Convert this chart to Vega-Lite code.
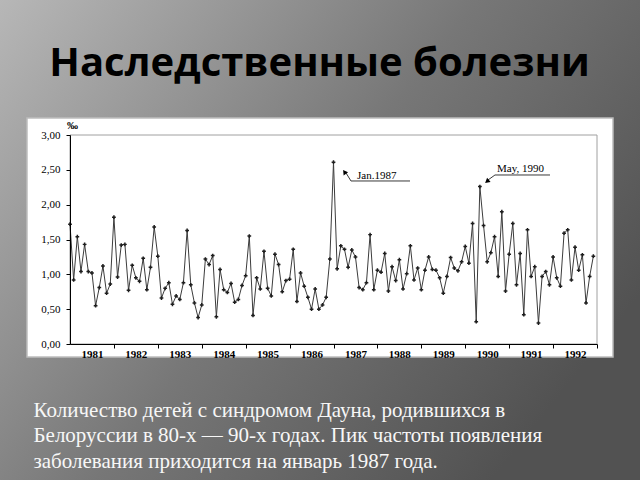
{
  "$schema": "https://vega.github.io/schema/vega-lite/v6.json",
  "width": 527,
  "height": 209,
  "autosize": {"type": "none"},
  "padding": {"left": 70, "top": 135, "right": 43, "bottom": 136},
  "background": "#8a8a8a",
  "title": {
    "text": "Наследственные болезни",
    "font": "Open Sans",
    "fontSize": 40,
    "fontWeight": "bold",
    "color": "#000000",
    "anchor": "middle",
    "frame": "group",
    "baseline": "alphabetic",
    "offset": 0,
    "dx": -14,
    "dy": 120,
    "zindex": 1
  },
  "config": {"view": {"stroke": null}, "axisY": {"labelOverlap": false}},
  "datasets": {
    "births": [
      {"t": 1981.000, "v": 1.72}, {"t": 1981.083, "v": 0.92}, {"t": 1981.167, "v": 1.54}, {"t": 1981.250, "v": 1.04},
      {"t": 1981.333, "v": 1.43}, {"t": 1981.417, "v": 1.04}, {"t": 1981.500, "v": 1.02}, {"t": 1981.583, "v": 0.55},
      {"t": 1981.667, "v": 0.81}, {"t": 1981.750, "v": 1.12}, {"t": 1981.833, "v": 0.73}, {"t": 1981.917, "v": 0.86},
      {"t": 1982.000, "v": 1.82}, {"t": 1982.083, "v": 0.96}, {"t": 1982.167, "v": 1.42}, {"t": 1982.250, "v": 1.43},
      {"t": 1982.333, "v": 0.77}, {"t": 1982.417, "v": 1.13}, {"t": 1982.500, "v": 0.95}, {"t": 1982.583, "v": 0.90},
      {"t": 1982.667, "v": 1.23}, {"t": 1982.750, "v": 0.78}, {"t": 1982.833, "v": 1.10}, {"t": 1982.917, "v": 1.68},
      {"t": 1983.000, "v": 1.26}, {"t": 1983.083, "v": 0.66}, {"t": 1983.167, "v": 0.80}, {"t": 1983.250, "v": 0.88},
      {"t": 1983.333, "v": 0.57}, {"t": 1983.417, "v": 0.69}, {"t": 1983.500, "v": 0.64}, {"t": 1983.583, "v": 0.88},
      {"t": 1983.667, "v": 1.63}, {"t": 1983.750, "v": 0.85}, {"t": 1983.833, "v": 0.59}, {"t": 1983.917, "v": 0.38},
      {"t": 1984.000, "v": 0.56}, {"t": 1984.083, "v": 1.22}, {"t": 1984.167, "v": 1.14}, {"t": 1984.250, "v": 1.27},
      {"t": 1984.333, "v": 0.39}, {"t": 1984.417, "v": 1.07}, {"t": 1984.500, "v": 0.78}, {"t": 1984.583, "v": 0.74},
      {"t": 1984.667, "v": 0.87}, {"t": 1984.750, "v": 0.60}, {"t": 1984.833, "v": 0.64}, {"t": 1984.917, "v": 0.84},
      {"t": 1985.000, "v": 0.98}, {"t": 1985.083, "v": 1.55}, {"t": 1985.167, "v": 0.41}, {"t": 1985.250, "v": 0.95},
      {"t": 1985.333, "v": 0.79}, {"t": 1985.417, "v": 1.33}, {"t": 1985.500, "v": 0.80}, {"t": 1985.583, "v": 0.69},
      {"t": 1985.667, "v": 1.29}, {"t": 1985.750, "v": 1.14}, {"t": 1985.833, "v": 0.75}, {"t": 1985.917, "v": 0.91},
      {"t": 1986.000, "v": 0.93}, {"t": 1986.083, "v": 1.36}, {"t": 1986.167, "v": 0.61}, {"t": 1986.250, "v": 1.02},
      {"t": 1986.333, "v": 0.83}, {"t": 1986.417, "v": 0.67}, {"t": 1986.500, "v": 0.50}, {"t": 1986.583, "v": 0.79},
      {"t": 1986.667, "v": 0.50}, {"t": 1986.750, "v": 0.56}, {"t": 1986.833, "v": 0.67}, {"t": 1986.917, "v": 1.22},
      {"t": 1987.000, "v": 2.61}, {"t": 1987.083, "v": 1.08}, {"t": 1987.167, "v": 1.41}, {"t": 1987.250, "v": 1.36},
      {"t": 1987.333, "v": 1.10}, {"t": 1987.417, "v": 1.35}, {"t": 1987.500, "v": 1.25}, {"t": 1987.583, "v": 0.81},
      {"t": 1987.667, "v": 0.78}, {"t": 1987.750, "v": 0.88}, {"t": 1987.833, "v": 1.57}, {"t": 1987.917, "v": 0.78},
      {"t": 1988.000, "v": 1.06}, {"t": 1988.083, "v": 1.03}, {"t": 1988.167, "v": 1.30}, {"t": 1988.250, "v": 0.76},
      {"t": 1988.333, "v": 1.11}, {"t": 1988.417, "v": 0.91}, {"t": 1988.500, "v": 1.21}, {"t": 1988.583, "v": 0.79},
      {"t": 1988.667, "v": 1.01}, {"t": 1988.750, "v": 1.41}, {"t": 1988.833, "v": 0.92}, {"t": 1988.917, "v": 1.09},
      {"t": 1989.000, "v": 0.78}, {"t": 1989.083, "v": 1.06}, {"t": 1989.167, "v": 1.25}, {"t": 1989.250, "v": 1.07},
      {"t": 1989.333, "v": 1.06}, {"t": 1989.417, "v": 0.95}, {"t": 1989.500, "v": 0.73}, {"t": 1989.583, "v": 0.97},
      {"t": 1989.667, "v": 1.24}, {"t": 1989.750, "v": 1.09}, {"t": 1989.833, "v": 1.05}, {"t": 1989.917, "v": 1.18},
      {"t": 1990.000, "v": 1.40}, {"t": 1990.083, "v": 1.16}, {"t": 1990.167, "v": 1.73}, {"t": 1990.250, "v": 0.32},
      {"t": 1990.333, "v": 2.26}, {"t": 1990.417, "v": 1.70}, {"t": 1990.500, "v": 1.18}, {"t": 1990.583, "v": 1.31},
      {"t": 1990.667, "v": 1.54}, {"t": 1990.750, "v": 0.97}, {"t": 1990.833, "v": 1.90}, {"t": 1990.917, "v": 0.76},
      {"t": 1991.000, "v": 1.29}, {"t": 1991.083, "v": 1.73}, {"t": 1991.167, "v": 0.85}, {"t": 1991.250, "v": 1.30},
      {"t": 1991.333, "v": 0.42}, {"t": 1991.417, "v": 1.64}, {"t": 1991.500, "v": 0.97}, {"t": 1991.583, "v": 1.11},
      {"t": 1991.667, "v": 0.30}, {"t": 1991.750, "v": 0.97}, {"t": 1991.833, "v": 1.04}, {"t": 1991.917, "v": 0.85},
      {"t": 1992.000, "v": 1.25}, {"t": 1992.083, "v": 0.95}, {"t": 1992.167, "v": 0.83}, {"t": 1992.250, "v": 1.59},
      {"t": 1992.333, "v": 1.64}, {"t": 1992.417, "v": 0.92}, {"t": 1992.500, "v": 1.39}, {"t": 1992.583, "v": 1.06},
      {"t": 1992.667, "v": 1.28}, {"t": 1992.750, "v": 0.59}, {"t": 1992.833, "v": 0.97}, {"t": 1992.917, "v": 1.26}
    ],
    "leaders": [
      {"name": "jan", "t": 1987.285, "v": 2.455},
      {"name": "jan", "t": 1987.398, "v": 2.340},
      {"name": "jan", "t": 1988.742, "v": 2.340},
      {"name": "may", "t": 1990.518, "v": 2.354},
      {"name": "may", "t": 1990.677, "v": 2.426},
      {"name": "may", "t": 1991.930, "v": 2.426}
    ],
    "arrows": [
      {"name": "jan", "t": 1987.250, "v": 2.469},
      {"name": "may", "t": 1990.495, "v": 2.333}
    ],
    "labels": [
      {"name": "jan", "label": "Jan.1987", "t": 1987.535, "v": 2.362},
      {"name": "may", "label": "May, 1990", "t": 1990.723, "v": 2.469}
    ],
    "single": [{"k": 1}]
  },
  "layer": [
    {
      "data": {"name": "single"},
      "mark": {
        "type": "rect",
        "stroke": null,
        "fill": {
          "gradient": "linear",
          "x1": 0, "y1": 0, "x2": 1, "y2": 0.6,
          "stops": [
            {"offset": 0, "color": "#b8b8b8"},
            {"offset": 0.55, "color": "#777777"},
            {"offset": 1, "color": "#525252"}
          ]
        }
      },
      "encoding": {
        "x": {
          "datum": 1979.3,
          "type": "quantitative",
          "scale": {"domain": [1981, 1993], "nice": false, "zero": false},
          "axis": {
            "title": [
              "Количество детей с синдромом Дауна, родившихся в",
              "Белоруссии в 80-х — 90-х годах. Пик частоты появления",
              "заболевания приходится на январь 1987 года."
            ],
            "values": [1982, 1983, 1984, 1985, 1986, 1987, 1988, 1989, 1990, 1991, 1992, 1993],
            "tickCount": 30,
            "labelExpr": "'' + (datum.value - 1)",
            "labelOffset": -22,
            "labelFlush": false,
            "labelOverlap": false,
            "labelBound": false,
            "labelFont": "Liberation Serif",
            "labelFontSize": 11,
            "labelFontWeight": "bold",
            "labelColor": "#000000",
            "labelPadding": 0,
            "tickSize": 4,
            "tickColor": "#000000",
            "domainColor": "#000000",
            "grid": false,
            "titleFont": "Liberation Serif",
            "titleFontSize": 21,
            "titleFontWeight": "normal",
            "titleColor": "#f7f7f7",
            "titleAlign": "left",
            "titleAnchor": "start",
            "titleBaseline": "alphabetic",
            "titleX": -37,
            "titleY": 72,
            "titleLineHeight": 25.5,
            "zindex": 1
          }
        },
        "x2": {"datum": 1994.1},
        "y": {
          "datum": -2.0,
          "type": "quantitative",
          "scale": {"domain": [0, 3], "nice": false, "zero": false},
          "axis": {
            "title": "‰",
            "titleAngle": 0,
            "titleX": 2,
            "titleY": -7,
            "titleAlign": "center",
            "titleBaseline": "alphabetic",
            "titleFont": "Liberation Serif",
            "titleFontSize": 11,
            "titleFontWeight": "bold",
            "titleColor": "#000000",
            "values": [0, 0.5, 1, 1.5, 2, 2.5, 3],
            "tickCount": 30,
            "labelExpr": "replace(format(datum.value, '.2f'), '.', ',')",
            "labelOverlap": false,
            "labelFlush": false,
            "labelBound": false,
            "labelFont": "Liberation Serif",
            "labelFontSize": 11,
            "labelColor": "#000000",
            "labelPadding": 6,
            "tickSize": 4,
            "tickColor": "#000000",
            "domainColor": "#000000",
            "grid": false,
            "zindex": 1
          }
        },
        "y2": {"datum": 5.0}
      }
    },
    {
      "data": {"name": "single"},
      "mark": {"type": "rect", "fill": "#ffffff", "stroke": "#bdbdbd", "strokeWidth": 1.5},
      "encoding": {
        "x": {"datum": 1980.021, "type": "quantitative"},
        "x2": {"datum": 1993.364},
        "y": {"datum": -0.187, "type": "quantitative"},
        "y2": {"datum": 3.244}
      }
    },
    {
      "data": {"name": "single"},
      "mark": {"type": "rect", "fill": null, "filled": false, "stroke": "#a0a0a0", "strokeWidth": 1},
      "encoding": {
        "x": {"datum": 1981, "type": "quantitative"},
        "x2": {"datum": 1993},
        "y": {"datum": 0, "type": "quantitative"},
        "y2": {"datum": 3}
      }
    },
    {
      "data": {"name": "births"},
      "mark": {"type": "line", "color": "#3c3c3c", "strokeWidth": 1},
      "encoding": {
        "x": {"field": "t", "type": "quantitative"},
        "y": {"field": "v", "type": "quantitative"}
      }
    },
    {
      "data": {"name": "births"},
      "mark": {"type": "point", "shape": "cross", "filled": true, "size": 14, "color": "#1e1e1e", "opacity": 1},
      "encoding": {
        "x": {"field": "t", "type": "quantitative"},
        "y": {"field": "v", "type": "quantitative"}
      }
    },
    {
      "data": {"name": "leaders"},
      "mark": {"type": "line", "color": "#222222", "strokeWidth": 0.9},
      "encoding": {
        "x": {"field": "t", "type": "quantitative"},
        "y": {"field": "v", "type": "quantitative"},
        "detail": {"field": "name"}
      }
    },
    {
      "data": {"name": "arrows"},
      "transform": [{"filter": "datum.name === 'jan'"}],
      "mark": {"type": "point", "shape": "triangle-up", "filled": true, "size": 30, "angle": 324, "color": "#000000", "opacity": 1},
      "encoding": {
        "x": {"field": "t", "type": "quantitative"},
        "y": {"field": "v", "type": "quantitative"}
      }
    },
    {
      "data": {"name": "arrows"},
      "transform": [{"filter": "datum.name === 'may'"}],
      "mark": {"type": "point", "shape": "triangle-up", "filled": true, "size": 30, "angle": 231, "color": "#000000", "opacity": 1},
      "encoding": {
        "x": {"field": "t", "type": "quantitative"},
        "y": {"field": "v", "type": "quantitative"}
      }
    },
    {
      "data": {"name": "labels"},
      "mark": {"type": "text", "align": "left", "baseline": "alphabetic", "font": "Liberation Serif", "fontSize": 11, "color": "#000000"},
      "encoding": {
        "x": {"field": "t", "type": "quantitative"},
        "y": {"field": "v", "type": "quantitative"},
        "text": {"field": "label"}
      }
    }
  ]
}
